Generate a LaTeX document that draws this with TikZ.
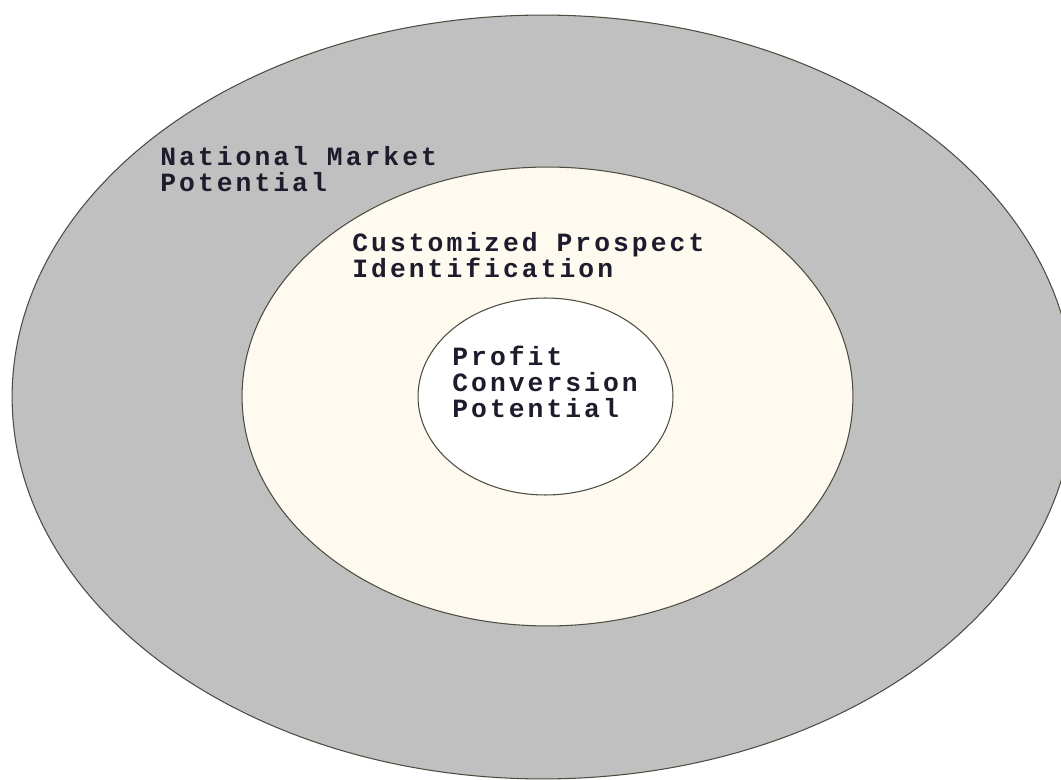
\documentclass[tikz,border=0pt]{standalone}
\usepackage{fontspec}
\usepackage{xcolor}
\usepackage{tikz}
\usetikzlibrary{shapes.geometric, positioning}
\newfontfamily\zonefont[LetterSpace=11.5]{Liberation Mono}
\definecolor{outergray}{HTML}{C0C0C0}
\definecolor{creamfill}{HTML}{FFFAF0}
\definecolor{rimline}{HTML}{4C4C40}
\definecolor{labelink}{HTML}{1C1C2C}
\tikzset{
  zone/.style={ellipse,draw=rimline,line width=0.6pt,inner sep=0pt},
  zonetext/.style={anchor=north west,inner sep=0pt,align=left,text=labelink,
    font=\zonefont\bfseries\fontsize{15}{14.8}\selectfont}
}

\begin{document}
\begin{tikzpicture}[x=0.02cm,y=-0.02cm]
  \useasboundingbox (0,0) rectangle (1061,780);
  \clip (0,0) rectangle (1061,780);
  % three nested rings
  \node[zone, fill=outergray, minimum width=21.24cm, minimum height=15.28cm] (market) at (543,397) {};
  \node[zone, fill=creamfill, minimum width=12.22cm, minimum height=9.18cm] (prospect) at (547.5,396.5) {};
  \node[zone, fill=white, minimum width=5.1cm, minimum height=3.94cm] (profit) at (545.5,396.5) {};
  % ring labels
  \node[zonetext] (marketlbl) at (160,146) {National Market\\Potential};
  \node[zonetext] (prospectlbl) at (352,232) {Customized Prospect\\Identification};
  \node[zonetext] (profitlbl) at (452,346) {Profit\\Conversion\\Potential};
\end{tikzpicture}
\end{document}
